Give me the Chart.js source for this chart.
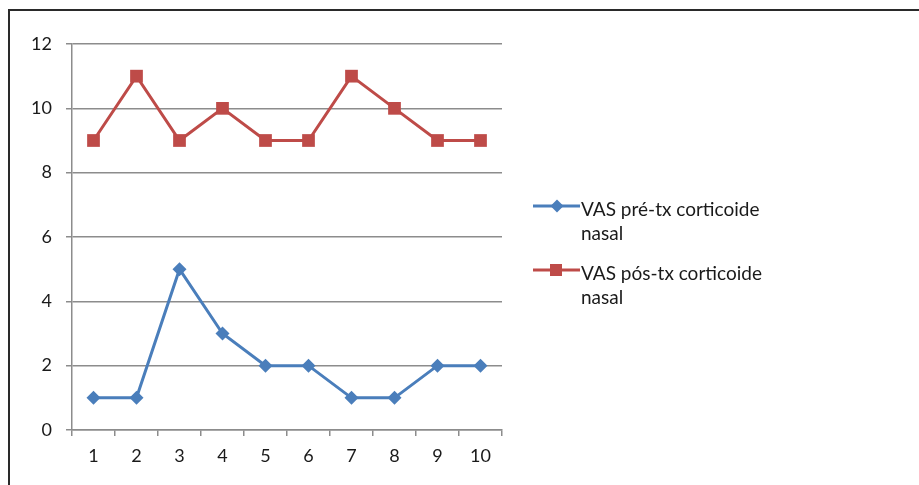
<!DOCTYPE html>
<html>
<head>
<meta charset="utf-8">
<script src="https://cdn.jsdelivr.net/npm/chart.js@4/dist/chart.umd.min.js"></script>
<style>
  html, body { margin: 0; padding: 0; background: #ffffff; }
  #wrap { width: 919px; height: 485px; position: relative; }
</style>
</head>
<body>
<div id="wrap"><canvas id="c" width="919" height="485"></canvas></div>
<script>
// Patient index along the x axis
const categories = ['1', '2', '3', '4', '5', '6', '7', '8', '9', '10'];
// Visual analogue scale before and after nasal corticosteroid treatment
const vasPre = [1, 1, 5, 3, 2, 2, 1, 1, 2, 2];
const vasPost = [9, 11, 9, 10, 9, 9, 11, 10, 9, 9];
const seriesNames = [
  ['VAS pré-tx corticoide', 'nasal'],
  ['VAS pós-tx corticoide', 'nasal']
];

const FONT = 'Lato, "Liberation Sans", sans-serif';
const BLUE = '#4a7ebb';
const RED = '#be4b48';
const GRID = '#8c8c8c';
const TEXT = '#1a1a1a';

// Frame lines along the top and left edges of the chart
const framePlugin = {
  id: 'frame',
  beforeDraw(chart) {
    const ctx = chart.ctx;
    ctx.save();
    ctx.strokeStyle = '#2a2a2a';
    ctx.lineWidth = 2;
    ctx.beginPath();
    ctx.moveTo(9, 485);
    ctx.lineTo(9, 10);
    ctx.lineTo(919, 10);
    ctx.stroke();
    ctx.restore();
  }
};

// Legend on the right with wrapped series names
const sideLegend = {
  id: 'sideLegend',
  afterDraw(chart) {
    const ctx = chart.ctx;
    ctx.save();
    ctx.font = '19px ' + FONT;
    ctx.textBaseline = 'alphabetic';
    const rows = [206, 270];
    chart.data.datasets.forEach((ds, i) => {
      const y = rows[i];
      ctx.strokeStyle = ds.borderColor;
      ctx.lineWidth = 3;
      ctx.beginPath();
      ctx.moveTo(533, y);
      ctx.lineTo(580, y);
      ctx.stroke();
      ctx.fillStyle = ds.backgroundColor;
      if (ds.pointStyle === 'rectRot') {
        ctx.beginPath();
        ctx.moveTo(557, y - 6.5);
        ctx.lineTo(563.5, y);
        ctx.lineTo(557, y + 6.5);
        ctx.lineTo(550.5, y);
        ctx.closePath();
        ctx.fill();
      } else {
        ctx.fillRect(550, y - 6, 12, 12);
      }
      ctx.fillStyle = TEXT;
      seriesNames[i].forEach((line, k) => {
        ctx.fillText(line, 581, y + 10 + k * 24);
      });
    });
    ctx.restore();
  }
};

new Chart(document.getElementById('c'), {
  type: 'line',
  data: {
    labels: categories,
    datasets: [
      {
        label: seriesNames[0].join(' '),
        data: vasPre,
        borderColor: BLUE,
        backgroundColor: BLUE,
        borderWidth: 3,
        pointStyle: 'rectRot',
        pointRadius: 7,
        pointBorderWidth: 0,
        tension: 0
      },
      {
        label: seriesNames[1].join(' '),
        data: vasPost,
        borderColor: RED,
        backgroundColor: RED,
        borderWidth: 3,
        pointStyle: 'rect',
        pointRadius: 9,
        pointBorderWidth: 0,
        tension: 0
      }
    ]
  },
  options: {
    responsive: false,
    animation: false,
    layout: { padding: { left: 0, top: 44, right: 417, bottom: 0 } },
    plugins: {
      legend: { display: false },
      tooltip: { enabled: false }
    },
    scales: {
      x: {
        type: 'category',
        offset: true,
        afterFit(scale) { scale.height = 55; },
        grid: {
          offset: true,
          drawOnChartArea: false,
          drawTicks: true,
          tickLength: 6,
          color: GRID,
          lineWidth: 1.5
        },
        border: { color: GRID, width: 1.5 },
        ticks: {
          color: TEXT,
          font: { family: FONT, size: 18 },
          padding: 9,
          maxRotation: 0
        }
      },
      y: {
        min: 0,
        max: 12,
        afterFit(scale) { scale.width = 72; },
        grid: {
          color: GRID,
          lineWidth: 1.5,
          drawTicks: true,
          tickLength: 6
        },
        border: { color: GRID, width: 1.5 },
        ticks: {
          stepSize: 2,
          color: TEXT,
          font: { family: FONT, size: 18 },
          padding: 14
        }
      }
    }
  },
  plugins: [framePlugin, sideLegend]
});
</script>
</body>
</html>
